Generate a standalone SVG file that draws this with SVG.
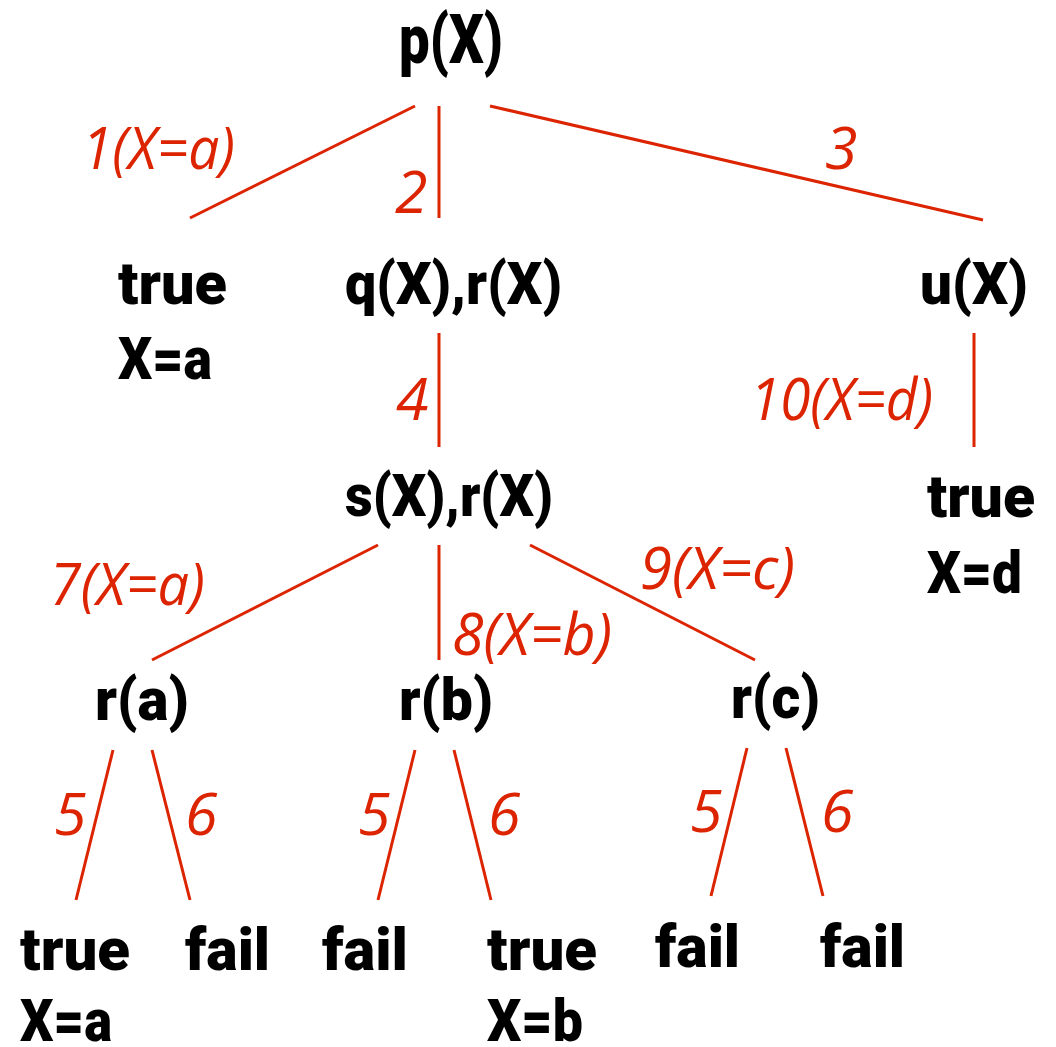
<svg xmlns="http://www.w3.org/2000/svg" width="1056" height="1047" viewBox="0 0 1056 1047">
<style>
.n{font-family:Roboto,"Liberation Sans",sans-serif;font-weight:900;font-size:60px;fill:#000}
.r{font-family:"Open Sans","Liberation Sans",sans-serif;font-style:italic;font-size:59px;fill:#dc2400}
.e{stroke:#dc2400;stroke-width:3;fill:none}
</style>
<rect width="1056" height="1047" fill="#fff"/>
<g id="connectors">
<line class="e" x1="415" y1="106" x2="190" y2="218"/>
<line class="e" x1="439" y1="106" x2="439" y2="218"/>
<line class="e" x1="490" y1="106" x2="983" y2="220"/>
<line class="e" x1="439" y1="333" x2="439" y2="447"/>
<line class="e" x1="974" y1="333" x2="974" y2="447"/>
<line class="e" x1="378" y1="545" x2="152" y2="660"/>
<line class="e" x1="439" y1="545" x2="439" y2="660"/>
<line class="e" x1="530" y1="545" x2="755" y2="660"/>
<line class="e" x1="113" y1="750" x2="76" y2="900"/>
<line class="e" x1="152" y1="750" x2="190" y2="900"/>
<line class="e" x1="415" y1="750" x2="378" y2="900"/>
<line class="e" x1="454" y1="750" x2="491" y2="900"/>
<line class="e" x1="747" y1="748" x2="711" y2="896"/>
<line class="e" x1="786" y1="748" x2="823" y2="896"/>
<text class="r" x="82" y="169" textLength="153" lengthAdjust="spacingAndGlyphs">1(X=a)</text>
<text class="r" x="395" y="213">2</text>
<text class="r" x="825" y="169">3</text>
<text class="r" x="396" y="420">4</text>
<text class="r" x="750" y="420" textLength="183" lengthAdjust="spacingAndGlyphs">10(X=d)</text>
<text class="r" x="50" y="605" textLength="155" lengthAdjust="spacingAndGlyphs">7(X=a)</text>
<text class="r" x="452" y="655" textLength="160" lengthAdjust="spacingAndGlyphs">8(X=b)</text>
<text class="r" x="640" y="589" textLength="155" lengthAdjust="spacingAndGlyphs">9(X=c)</text>
<text class="r" x="54" y="835">5</text>
<text class="r" x="185" y="835">6</text>
<text class="r" x="358" y="835">5</text>
<text class="r" x="488" y="835">6</text>
<text class="r" x="690" y="832">5</text>
<text class="r" x="821" y="832">6</text>
</g>
<g id="node-p"><text class="n" style="font-size:68px" x="399" y="63" textLength="104" lengthAdjust="spacingAndGlyphs">p(X)</text></g>
<g id="node-true1"><text class="n" x="118" y="304" textLength="109" lengthAdjust="spacingAndGlyphs">true</text><text class="n" x="118" y="379" textLength="94" lengthAdjust="spacingAndGlyphs">X=a</text></g>
<g id="node-qr"><text class="n" x="345" y="304" textLength="217" lengthAdjust="spacingAndGlyphs">q(X),r(X)</text></g>
<g id="node-u"><text class="n" x="920" y="304" textLength="108" lengthAdjust="spacingAndGlyphs">u(X)</text></g>
<g id="node-sr"><text class="n" x="345" y="516" textLength="208" lengthAdjust="spacingAndGlyphs">s(X),r(X)</text></g>
<g id="node-true2"><text class="n" x="927" y="517" textLength="108" lengthAdjust="spacingAndGlyphs">true</text><text class="n" x="927" y="593" textLength="95" lengthAdjust="spacingAndGlyphs">X=d</text></g>
<g id="node-ra"><text class="n" x="95" y="720" textLength="94" lengthAdjust="spacingAndGlyphs">r(a)</text></g>
<g id="node-rb"><text class="n" x="399" y="720" textLength="94" lengthAdjust="spacingAndGlyphs">r(b)</text></g>
<g id="node-rc"><text class="n" x="731" y="718" textLength="89" lengthAdjust="spacingAndGlyphs">r(c)</text></g>
<g id="node-true3"><text class="n" x="20" y="970" textLength="110" lengthAdjust="spacingAndGlyphs">true</text><text class="n" x="20" y="1041" textLength="92" lengthAdjust="spacingAndGlyphs">X=a</text></g>
<g id="node-fail1"><text class="n" x="185" y="970" textLength="85" lengthAdjust="spacingAndGlyphs">fail</text></g>
<g id="node-fail2"><text class="n" x="322" y="970" textLength="86" lengthAdjust="spacingAndGlyphs">fail</text></g>
<g id="node-true4"><text class="n" x="487" y="970" textLength="110" lengthAdjust="spacingAndGlyphs">true</text><text class="n" x="487" y="1041" textLength="96" lengthAdjust="spacingAndGlyphs">X=b</text></g>
<g id="node-fail3"><text class="n" x="655" y="967" textLength="85" lengthAdjust="spacingAndGlyphs">fail</text></g>
<g id="node-fail4"><text class="n" x="820" y="967" textLength="85" lengthAdjust="spacingAndGlyphs">fail</text></g>
</svg>
